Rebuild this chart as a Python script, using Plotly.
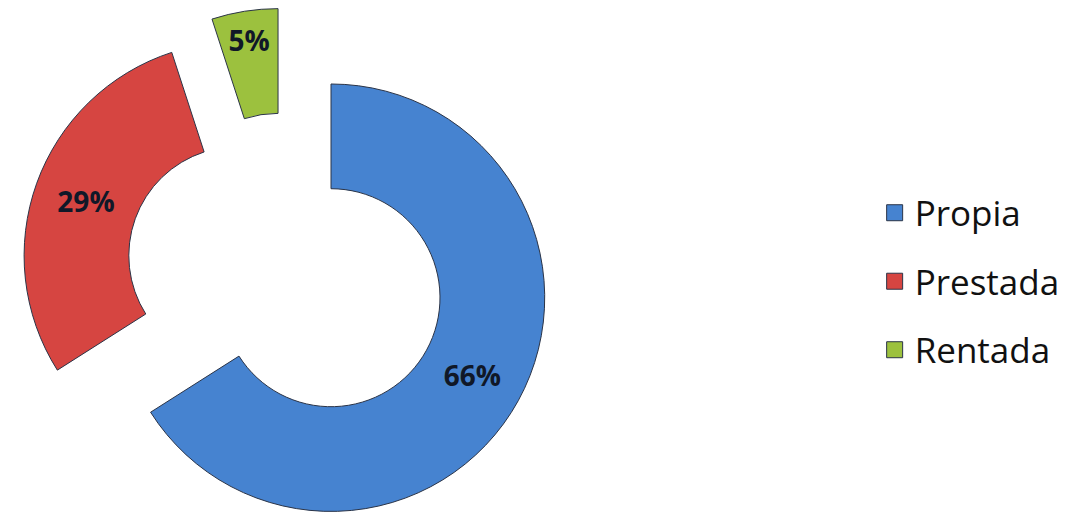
import plotly.graph_objects as go

labels = ["Propia", "Prestada", "Rentada"]
values = [66, 29, 5]
colors = ["#4683d0", "#d64541", "#9cc13e"]
pulls = [0.24, 0.24, 0.24]

fig = go.Figure()
fig.add_trace(go.Pie(
    labels=labels,
    values=values,
    hole=0.51,
    sort=False,
    direction="clockwise",
    rotation=0,
    pull=pulls,
    marker=dict(colors=colors, line=dict(color="#2b3447", width=1)),
    textinfo="percent",
    texttemplate="%{percent:.0%}",
    textposition="inside",
    insidetextorientation="horizontal",
    textfont=dict(family="Open Sans", size=28, color="#101828", weight="bold"),
    domain=dict(x=[0.0121, 0.5033], y=[0, 1]),
    showlegend=False,
))

for lab, col in zip(labels, colors):
    fig.add_trace(go.Scatter(
        x=[None], y=[None], mode="markers", name=lab,
        legendgroup=lab,
        marker=dict(symbol="square", size=16, color=col,
                    line=dict(color="#2b3447", width=1)),
        showlegend=True,
    ))

fig.update_layout(
    width=1079, height=530,
    margin=dict(l=0, r=0, t=0, b=0),
    paper_bgcolor="white", plot_bgcolor="white",
    xaxis=dict(visible=False), yaxis=dict(visible=False),
    legend=dict(
        x=0.8032, xanchor="left", y=0.484, yanchor="middle",
        font=dict(family="Open Sans", size=35, color="#111111"),
        tracegroupgap=20,
        bgcolor="rgba(0,0,0,0)",
    ),
)

fig.write_html("out.html")
